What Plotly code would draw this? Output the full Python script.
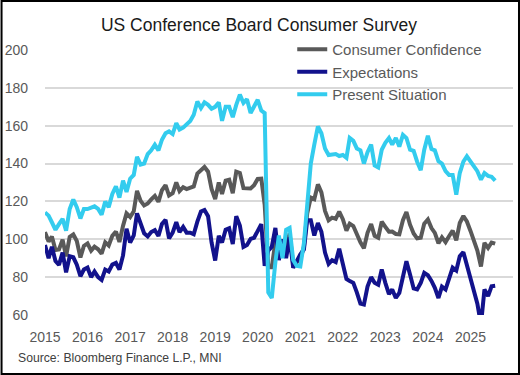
import pandas as pd
import plotly.graph_objects as go

START_MONTH = "2015-01-01"

consumer_confidence = [
    103.8, 98.8, 101.4, 94.3, 94.6, 99.8, 91.0, 101.3, 102.6, 99.1, 90.4, 96.5,
    97.8, 94.0, 96.1, 94.7, 92.4, 98.4, 96.7, 101.8, 104.1, 98.6, 107.1, 113.7,
    111.8, 114.8, 125.6, 120.3, 117.9, 118.9, 121.1, 122.9, 119.8, 125.9, 128.6, 123.1,
    124.3, 130.0, 125.5, 127.5, 126.5, 127.1, 127.9, 134.7, 136.5, 138.2, 135.7, 126.6,
    121.3, 130.0, 124.0, 131.0, 131.5, 124.3, 135.7, 135.0, 127.0, 127.0, 126.8, 128.5,
    131.9, 132.0, 118.3, 85.2, 85.2, 98.8, 94.2, 96.0, 96.0, 103.0, 86.6, 87.8,
    89.5, 96.0, 113.6, 122.0, 121.2, 129.0, 124.8, 115.0, 110.0, 111.4, 110.8, 114.6,
    110.6, 104.6, 108.2, 107.0, 102.4, 98.4, 95.3, 103.4, 108.0, 101.8, 100.8, 109.3,
    106.6, 104.0, 104.1, 102.8, 102.6, 110.1, 114.4, 107.7, 103.1, 100.5, 100.8, 108.3,
    110.5, 105.9, 103.4, 97.9, 101.0, 98.5, 101.6, 104.6, 99.5, 108.6, 112.3, 109.4,
    104.4, 99.2, 94.0, 85.6, 98.1, 95.4, 98.3, 97.7,
]

expectations = [
    97.0, 90.0, 96.0, 88.5, 86.5, 93.0, 82.5, 91.0, 90.5, 86.6, 80.5, 84.0,
    85.0, 80.0, 83.0, 80.0, 78.5, 84.0, 83.0, 86.6, 87.5, 84.0, 91.5, 105.5,
    98.3, 102.0, 113.7, 107.5, 103.2, 101.5, 103.8, 104.8, 101.7, 108.1, 110.3, 100.5,
    103.5, 109.0, 103.8, 106.5, 103.5, 103.5, 102.7, 109.3, 114.7, 115.5, 112.2, 98.3,
    88.8, 101.8, 98.3, 105.0, 105.8, 97.5, 112.2, 107.3, 96.0, 97.0, 100.2, 100.8,
    104.0, 108.0, 86.0, 94.0, 96.0, 106.0, 89.0, 100.0, 90.0, 101.0, 85.0, 89.0,
    92.0, 94.6, 110.0, 110.0, 102.0, 108.6, 104.0, 93.0, 87.0, 89.0, 88.0, 95.0,
    88.0, 79.0, 78.0, 77.0, 72.0, 66.0, 65.5, 75.0, 80.0, 77.0, 76.0, 84.0,
    77.0, 71.0, 73.5, 69.0, 71.7, 80.0, 88.4, 81.4, 74.0, 73.5, 77.0, 82.3,
    81.0, 78.0, 74.4, 69.0, 75.0, 73.5, 80.0, 85.0, 83.5, 91.0, 93.2, 86.5,
    80.0, 73.0, 66.0, 55.0, 73.5, 70.0, 75.2, 75.5,
]

present_situation = [
    114.2, 112.5, 109.0, 105.0, 108.0, 110.8, 104.5, 116.0, 121.0, 117.0, 111.0, 116.0,
    116.0, 116.5, 117.4, 116.0, 113.0, 120.0, 117.0, 124.0, 128.0, 122.0, 131.0, 125.0,
    132.0, 134.0, 143.5, 139.5, 140.0, 145.0, 147.0, 150.0, 147.0, 152.6, 156.0, 157.0,
    155.6, 161.4, 158.0, 159.0, 161.0, 162.5, 165.8, 172.8, 169.3, 172.3, 171.0, 169.0,
    170.0, 172.3, 162.6, 170.0, 170.0, 164.5, 171.0, 176.4, 172.0, 174.0, 166.7, 170.0,
    173.7, 168.0, 166.7, 72.0, 69.0, 88.0, 102.0, 90.0, 105.0, 106.0, 89.0, 86.0,
    85.7, 98.0, 119.0, 140.0, 150.0, 159.6, 156.0, 148.0, 144.5, 145.0, 145.0, 144.0,
    144.5, 143.0, 153.5, 152.0, 148.0, 147.0, 140.0, 146.0, 150.0, 139.0, 138.0, 147.3,
    151.0, 153.5, 150.0, 153.5, 149.0, 155.2, 153.5, 147.3, 146.7, 141.0, 136.5, 147.3,
    154.7, 147.7, 147.0, 141.2, 140.0, 136.0, 134.0, 134.0, 123.6, 135.0, 141.0, 143.8,
    141.0, 138.5, 136.0, 131.5, 135.0, 133.5, 133.0, 131.0,
]

series_names = ["Consumer Confidence", "Expectations", "Present Situation"]
year_labels = ["2015", "2016", "2017", "2018", "2019", "2020",
               "2021", "2022", "2023", "2024", "2025"]
y_ticks = [60, 80, 100, 120, 140, 160, 180, 200]

dates = pd.date_range(START_MONTH, periods=len(consumer_confidence), freq="MS")
year_ticks = [pd.Timestamp(f"{y}-01-01") for y in year_labels]

colors = ["#595959", "#12128C", "#33CCEE"]
series = [consumer_confidence, expectations, present_situation]

fig = go.Figure()
for name, vals, col in zip(series_names, series, colors):
    fig.add_trace(go.Scatter(
        x=dates, y=vals, name=name, mode="lines",
        line=dict(color=col, width=4),
    ))

FONT = "Liberation Sans"
L, R, T, B = 44.5, 7, 50, 60
W, H = 520, 375
pw = W - L - R
ph = H - T - B

def px_x(x):
    return (x - L) / pw

def px_y(y):
    return (H - B - y) / ph

fig.update_layout(
    width=W, height=H,
    margin=dict(l=L, r=R, t=T, b=B, autoexpand=False),
    paper_bgcolor="white", plot_bgcolor="white",
    font=dict(family=FONT, color="#595959"),
    title=dict(text="US Conference Board Consumer Survey",
               xref="container", yref="container",
               x=259 / W, xanchor="center", y=1 - 25 / H, yanchor="middle",
               font=dict(size=17.5, color="#1a1a1a", family=FONT)),
    showlegend=True,
    legend=dict(x=px_x(292), xanchor="left", y=px_y(33), yanchor="top",
                bgcolor="rgba(0,0,0,0)", font=dict(size=15, color="#595959"),
                traceorder="normal"),
    xaxis=dict(range=[pd.Timestamp("2015-01-01"), pd.Timestamp("2026-01-01")],
               tickvals=year_ticks, ticktext=year_labels,
               showgrid=False, zeroline=False, showline=False,
               ticks="", ticklabelstandoff=12,
               tickfont=dict(size=14, color="#595959")),
    yaxis=dict(range=[60, 200], tickvals=y_ticks,
               showgrid=True, gridcolor="#D9D9D9", gridwidth=1.5,
               zeroline=False, showline=False, ticks="",
               ticklabelstandoff=16,
               tickfont=dict(size=14, color="#595959")),
    annotations=[dict(text="Source: Bloomberg Finance L.P., MNI",
                      xref="paper", yref="paper", x=px_x(15), y=px_y(358),
                      xanchor="left", yanchor="middle", showarrow=False,
                      font=dict(size=12.2, color="#404040", family=FONT))],
    shapes=[dict(type="rect", xref="paper", yref="paper",
                 x0=px_x(1), x1=px_x(519), y0=px_y(374), y1=px_y(1),
                 line=dict(color="black", width=2), layer="above")],
)

fig.write_html("out.html",
               config={"displayModeBar": False},
               post_script="document.body.style.margin='0px';document.body.style.overflow='hidden';")
